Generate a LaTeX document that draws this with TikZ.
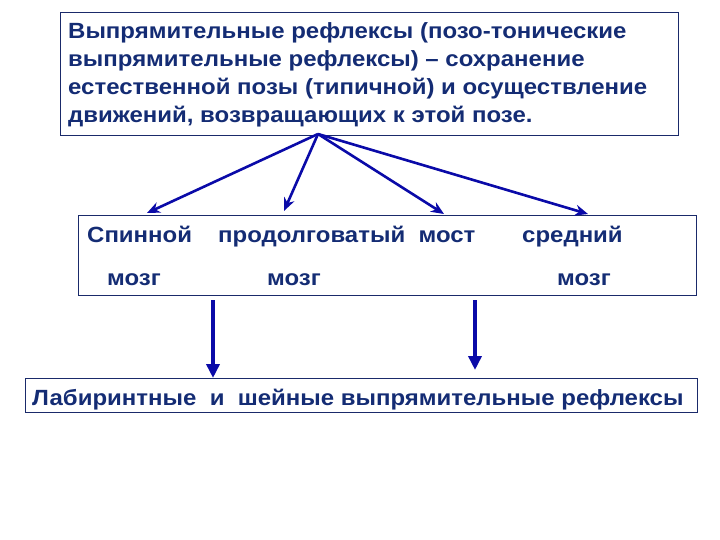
\documentclass[tikz,border=0pt]{standalone}
\usepackage{fontspec}
\setmainfont[FakeStretch=1.09]{Liberation Sans}
\usetikzlibrary{arrows.meta}
\definecolor{txt}{HTML}{142C74}
\definecolor{arr}{HTML}{0A0AA8}
\definecolor{frame}{HTML}{1A2A6A}
\begin{document}
\begin{tikzpicture}[x=1pt,y=-1pt,
  box/.style={draw=frame,line width=0.8pt,inner sep=0pt},
  lbl/.style={text=txt,font=\fontsize{22}{26}\selectfont\bfseries,inner sep=0pt,anchor=base west},
  fan/.style={draw=arr,line width=2.6pt,-{Stealth[length=13pt,width=11pt]}},
  down/.style={draw=arr,line width=4.5pt,-{Triangle[length=14pt,width=13pt]}}]
\useasboundingbox (0,0) rectangle (720,540);
% boxes
\draw[box] (60,12) rectangle (678,135);
\draw[box] (78,215) rectangle (696,295);
\draw[box] (25,378) rectangle (697,412);
% top text
\node[lbl] (t1) at (68,39) {Выпрямительные рефлексы (позо-тонические};
\node[lbl] (t2) at (68,67) {выпрямительные рефлексы) – сохранение};
\node[lbl] (t3) at (68,95) {естественной позы (типичной) и осуществление};
\node[lbl] (t4) at (68,123) {движений, возвращающих к этой позе.};
% middle texts
\node[lbl] (sp) at (87,243) {Спинной};
\node[lbl] (pr) at (218,243) {продолговатый\ \ мост};
\node[lbl] (sr) at (522,243) {средний};
\node[lbl] (m1) at (107,285) {мозг};
\node[lbl] (m2) at (267,285) {мозг};
\node[lbl] (m3) at (557,285) {мозг};
% bottom text
\node[lbl] (bot) at (32,405) {Лабиринтные\ \ и\ \ шейные выпрямительные рефлексы};
% connectors
\coordinate (src) at (318,134);
\coordinate (e1) at (147,213);
\coordinate (e2) at (284,211);
\coordinate (e3) at (444,214);
\coordinate (e4) at (588,214);
\draw[fan] (src) -- (e1);
\draw[fan] (src) -- (e2);
\draw[fan] (src) -- (e3);
\draw[fan] (src) -- (e4);
\coordinate (d1s) at (213,300);
\coordinate (d1e) at (213,378);
\coordinate (d2s) at (475,300);
\coordinate (d2e) at (475,370);
\draw[down] (d1s) -- (d1e);
\draw[down] (d2s) -- (d2e);
\end{tikzpicture}
\end{document}
